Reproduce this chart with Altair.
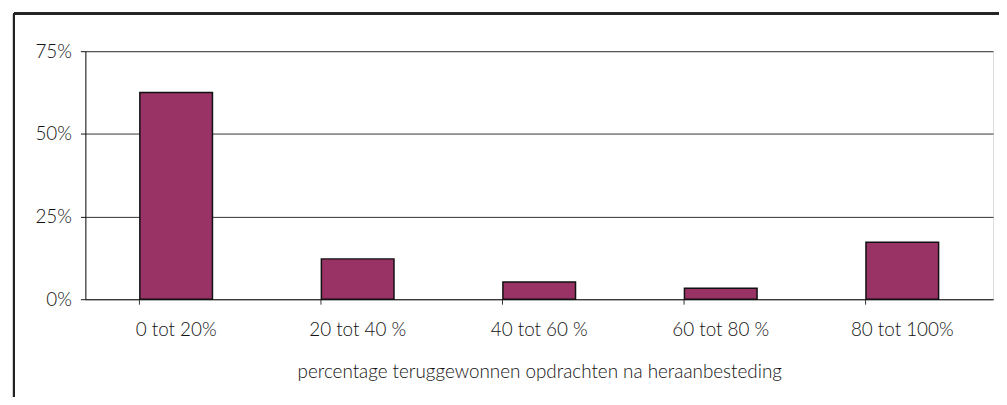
import altair as alt
import pandas as pd

categories = ["0 tot 20%", "20 tot 40 %", "40 tot 60 %", "60 tot 80 %", "80 tot 100%"]
values = [0.625, 0.122, 0.052, 0.033, 0.172]
y_ticks = [0, 0.25, 0.5, 0.75]
x_title = "percentage teruggewonnen opdrachten na heraanbesteding"

df = pd.DataFrame({"cat": categories, "val": values})

FONT = "Lato"
TXT = "#111111"
FS = 19

base = alt.Chart(df)

bars = base.mark_bar(color="#993366", stroke="#111111", strokeWidth=1.5).encode(
    x=alt.X(
        "cat:N",
        sort=categories,
        scale=alt.Scale(paddingInner=0.6, paddingOuter=0.3),
        axis=alt.Axis(
            title=x_title,
            labelAngle=0,
            bandPosition=0,
            tickSize=5,
            tickColor="#333333",
            domainColor="#333333",
            labelPadding=17,
            labelFontSize=FS,
            labelFont=FONT,
            labelFontWeight=300,
            labelColor=TXT,
            titleFont=FONT,
            titleFontSize=FS,
            titleFontWeight=300,
            titleColor=TXT,
            titlePadding=23,
            grid=False,
        ),
    ),
    y=alt.Y(
        "val:Q",
        scale=alt.Scale(domain=[0, 0.75], nice=False),
        axis=alt.Axis(
            title=None,
            values=y_ticks,
            format=".0%",
            tickSize=5,
            tickColor="#111111",
            domainColor="#111111",
            labelPadding=9,
            labelFontSize=FS,
            labelFont=FONT,
            labelFontWeight=300,
            labelColor=TXT,
            grid=True,
            gridColor="#333333",
            gridWidth=1,
        ),
    ),
)

frame_left = base.mark_rule(color="#222222", strokeWidth=2).encode(
    x=alt.value(-72), y=alt.value(-38), y2=alt.value(420)
)
frame_top = base.mark_rule(color="#222222", strokeWidth=2).encode(
    x=alt.value(-72), x2=alt.value(1000), y=alt.value(-38)
)

chart = (
    alt.layer(frame_left, frame_top, bars)
    .properties(
        width=915,
        height=250,
        autosize=alt.AutoSizeParams(type="none"),
        padding={"left": 78, "top": 42, "right": 6, "bottom": 97},
    )
    .configure_view(stroke="#999999", strokeWidth=1.5)
    .configure(background="white")
)

chart.save("out.html", embed_options={"renderer": "svg", "actions": False})
